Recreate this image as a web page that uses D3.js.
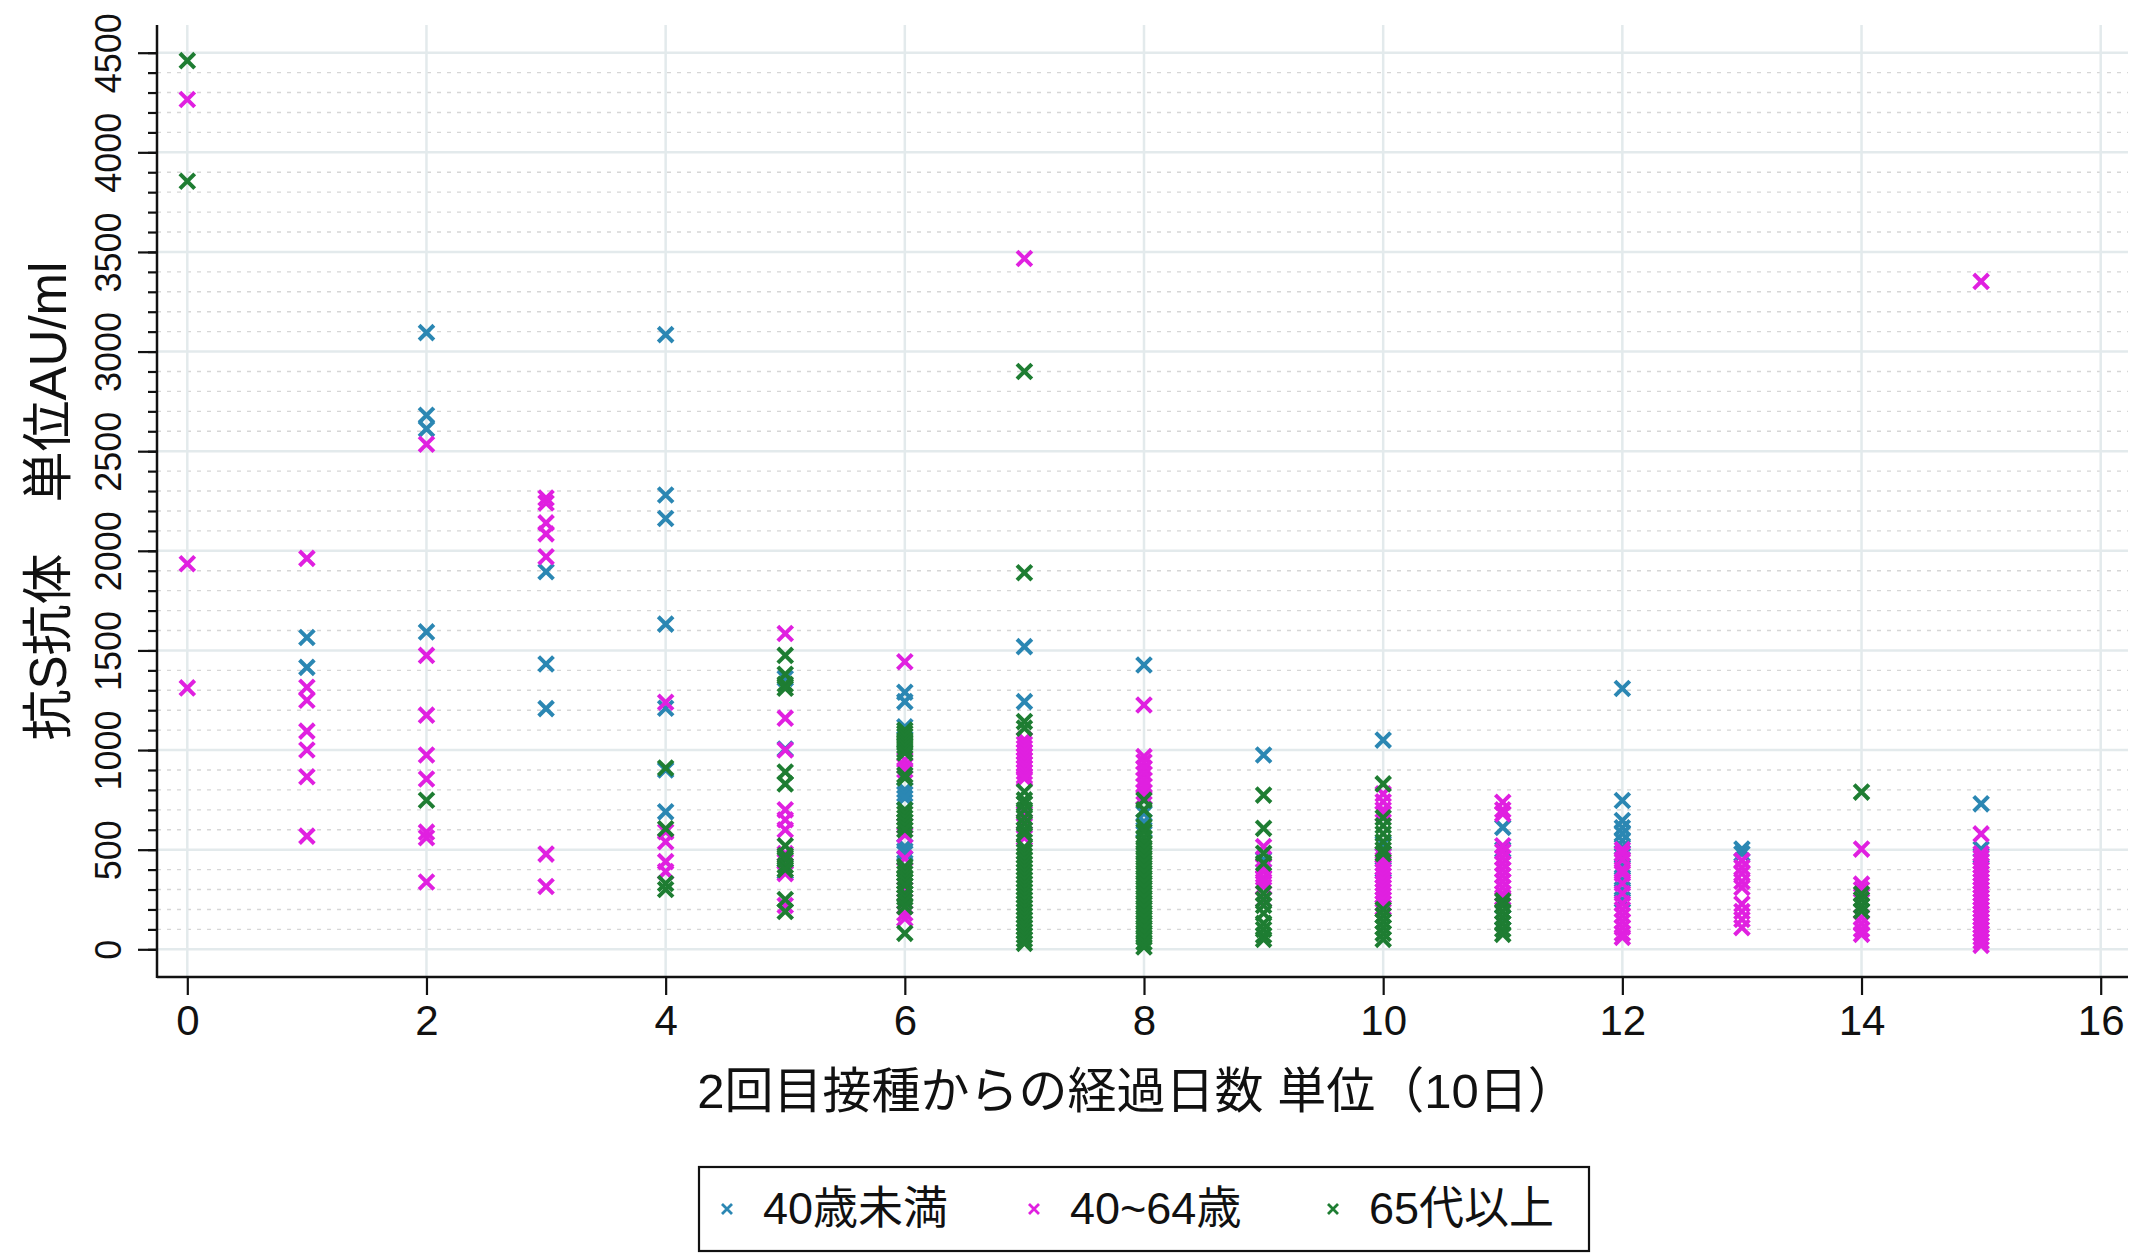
<!DOCTYPE html>
<html>
<head>
<meta charset="utf-8">
<script src="https://cdn.jsdelivr.net/npm/d3@7"></script>
<style>
  body { margin: 0; background: #fff; }
  text { font-family: "Liberation Sans", "Noto Sans CJK JP", sans-serif; fill: #111; }
</style>
</head>
<body>
<div id="chart"></div>
<script>
const width = 2132;
const height = 1254;

// series labels / colours
const groupNames = ["40歳未満", "40~64歳", "65代以上"];
const groupColors = ["#2b87b3", "#e020e0", "#1e7d32"];

const xTicks = [0, 2, 4, 6, 8, 10, 12, 14, 16];
const yTicks = [0, 500, 1000, 1500, 2000, 2500, 3000, 3500, 4000, 4500];

const xTitle = "2回目接種からの経過日数 単位（10日）";
const yTitle = "抗S抗体　単位AU/ml";

// [経過 (10日), 抗体 AU/ml]
const under40 = [
  [1,1565],[1,1415],
  [2,3095],[2,2680],[2,2612],[2,1593],
  [3,1895],[3,1432],[3,1208],
  [4,3085],[4,2280],[4,2162],[4,1632],[4,1210],[4,900],[4,690],
  [5,1360],[5,1005],[5,390],
  [6,1290],[6,1243],[6,1117],[6,800],[6,780],[6,760],[6,515],[6,495],[6,482],
  [7,1519],[7,1243],
  [8,1427],[8,682],[8,640],[8,600],
  [9,975],[9,450],
  [10,1050],[10,530],[10,400],
  [11,612],[11,500],[11,159],
  [12,1309],[12,747],[12,646],[12,610],[12,580],[12,545],[12,512],[12,470],[12,420],[12,350],[12,300],[12,250],
  [13,503],[13,480],
  [15,730],[15,503],[15,470]
];

const age40to64 = [
  [0,4265],[0,1935],[0,1312],
  [1,1962],[1,1315],[1,1250],[1,1095],[1,1000],[1,866],[1,568],
  [2,2535],[2,1475],[2,1175],[2,975],[2,855],[2,588],[2,560],[2,338],
  [3,2265],[3,2240],[3,2140],[3,2085],[3,1970],[3,478],[3,315],
  [4,1240],[4,590],[4,540],[4,440],[4,390],
  [5,1585],[5,1160],[5,1000],[5,700],[5,650],[5,600],[5,480],[5,440],[5,380],[5,220],
  [6,1443],[6,950],[6,920],[6,900],[6,620],[6,574],[6,457],[6,300],[6,181],[6,155],
  [7,3467],[7,1051],[7,1030],[7,1010],[7,990],[7,970],[7,950],[7,930],[7,910],[7,890],[7,870],[7,858],[7,680],[7,640],[7,560],
  [8,1226],[8,967],[8,940],[8,910],[8,880],[8,850],[8,820],[8,790],[8,766],
  [9,515],[9,415],[9,390],[9,360],[9,340],[9,314],[9,250],
  [10,780],[10,740],[10,700],[10,680],[10,470],[10,450],[10,430],[10,410],[10,390],[10,370],[10,350],[10,330],[10,310],[10,290],[10,270],[10,250],[10,230],[10,210],
  [11,738],[11,700],[11,680],[11,520],[11,490],[11,460],[11,430],[11,400],[11,370],[11,340],[11,310],[11,280],[11,260],
  [12,500],[12,480],[12,450],[12,400],[12,380],[12,330],[12,280],[12,230],[12,200],[12,170],[12,140],[12,110],[12,80],[12,60],
  [13,445],[13,410],[13,380],[13,340],[13,310],[13,227],[13,190],[13,150],[13,109],
  [14,503],[14,327],[14,300],[14,160],[14,130],[14,100],[14,75],
  [15,3352],[15,579],[15,480],[15,460],[15,440],[15,420],[15,400],[15,380],[15,360],[15,340],[15,320],[15,300],[15,280],[15,260],[15,240],[15,220],[15,200],[15,180],[15,160],[15,140],[15,120],[15,100],[15,80],[15,60],[15,40],[15,20]
];

const over65 = [
  [0,4460],[0,3855],
  [2,748],
  [4,910],[4,605],[4,330],[4,300],
  [5,1475],[5,1380],[5,1330],[5,1310],[5,890],[5,830],[5,520],[5,470],[5,450],[5,420],[5,400],[5,250],[5,190],
  [6,1100],[6,1085],[6,1070],[6,1050],[6,1035],[6,1020],[6,1000],[6,985],[6,875],[6,860],[6,700],[6,680],[6,660],[6,640],[6,620],[6,600],
  [6,415],[6,400],[6,380],[6,360],[6,340],[6,320],[6,280],[6,260],[6,240],[6,214],[6,80],
  [7,2900],[7,1890],[7,1143],[7,1110],[7,791],[7,750],[7,730],[7,700],[7,660],[7,630],[7,600],[7,580],
  [7,512],[7,490],[7,470],[7,450],[7,430],[7,410],[7,390],[7,370],[7,350],[7,330],[7,310],[7,290],[7,270],[7,250],
  [7,230],[7,210],[7,190],[7,170],[7,150],[7,130],[7,110],[7,90],[7,70],[7,50],[7,30],
  [8,749],[8,700],[8,615],[8,590],[8,560],[8,535],[8,510],[8,485],[8,460],[8,435],[8,410],[8,385],[8,360],[8,335],
  [8,310],[8,285],[8,260],[8,235],[8,210],[8,185],[8,160],[8,135],[8,110],[8,85],[8,60],[8,35],[8,12],
  [9,774],[9,607],[9,482],[9,432],[9,281],[9,250],[9,220],[9,181],[9,130],[9,100],[9,70],[9,50],
  [10,830],[10,660],[10,620],[10,580],[10,540],[10,500],[10,480],[10,200],[10,170],[10,140],[10,110],[10,80],[10,50],
  [11,243],[11,220],[11,190],[11,160],[11,130],[11,100],[11,75],
  [14,789],[14,277],[14,250],[14,220],[14,193]
];

const series = [under40, age40to64, over65];

const frame = { left: 157, right: 2128, top: 25, bottom: 977 };

const svg = d3.select("#chart")
    .append("svg")
    .attr("width", width)
    .attr("height", height)
    .style("background", "#fff");

const x = d3.scaleLinear().domain([0, 16]).range([187.3, 2100.7]);
const y = d3.scaleLinear().domain([0, 4500]).range([949.3, 52.7]);

// minor dotted grid every 100
const minorVals = d3.range(100, 4500, 100).filter(v => v % 500 !== 0);
svg.append("g")
    .selectAll("line")
    .data(minorVals)
    .enter()
    .append("line")
    .attr("x1", frame.left).attr("x2", frame.right)
    .attr("y1", d => y(d)).attr("y2", d => y(d))
    .attr("stroke", "#d6d6d6")
    .attr("stroke-width", 1.4)
    .attr("stroke-dasharray", "4,6");

// major grid
svg.append("g")
    .selectAll("line")
    .data(yTicks)
    .enter()
    .append("line")
    .attr("x1", frame.left).attr("x2", frame.right)
    .attr("y1", d => y(d)).attr("y2", d => y(d))
    .attr("stroke", "#e3eaec")
    .attr("stroke-width", 2.5);

svg.append("g")
    .selectAll("line")
    .data(xTicks)
    .enter()
    .append("line")
    .attr("x1", d => x(d)).attr("x2", d => x(d))
    .attr("y1", frame.top).attr("y2", frame.bottom)
    .attr("stroke", "#e3eaec")
    .attr("stroke-width", 2.5);

// markers: blue, magenta, then green on top
const cross = s => `M${-s},${-s}L${s},${s}M${-s},${s}L${s},${-s}`;

series.forEach((pts, i) => {
    svg.append("g")
        .selectAll("path")
        .data(pts)
        .enter()
        .append("path")
        .attr("transform", d => `translate(${x(d[0])},${y(d[1])})`)
        .attr("d", cross(7.4))
        .attr("stroke", groupColors[i])
        .attr("stroke-width", 4)
        .attr("fill", "none");
});

// axes
const yAxisMinor = d3.axisLeft(y)
    .tickValues(d3.range(0, 4600, 100))
    .tickSize(9)
    .tickFormat("");
const yAxis = d3.axisLeft(y)
    .tickValues(yTicks)
    .tickSize(19)
    .tickFormat(d3.format("d"));
const xAxis = d3.axisBottom(x)
    .tickValues(xTicks)
    .tickSize(18)
    .tickPadding(10);

const gy = svg.append("g").attr("transform", `translate(${frame.left},0)`);
gy.call(yAxisMinor);
gy.append("g").call(yAxis);
gy.selectAll(".domain").remove();
gy.selectAll("line").attr("stroke", "#111").attr("stroke-width", 2.2);
gy.selectAll("text")
    .attr("font-size", 36)
    .attr("x", 0).attr("dy", 0)
    .attr("text-anchor", "middle")
    .attr("transform", "translate(-36,0) rotate(-90)");

const gx = svg.append("g").attr("transform", `translate(0,${frame.bottom})`);
gx.call(xAxis);
gx.select(".domain").remove();
gx.selectAll("line").attr("stroke", "#111").attr("stroke-width", 2.2);
gx.selectAll("text").attr("font-size", 42).attr("fill", "#111");

// frame lines (left + bottom)
svg.append("line")
    .attr("x1", frame.left).attr("x2", frame.left)
    .attr("y1", frame.top).attr("y2", frame.bottom + 1)
    .attr("stroke", "#111").attr("stroke-width", 2.5);
svg.append("line")
    .attr("x1", frame.left).attr("x2", frame.right)
    .attr("y1", frame.bottom).attr("y2", frame.bottom)
    .attr("stroke", "#111").attr("stroke-width", 2.5);

// titles
svg.append("text")
    .attr("x", 1137)
    .attr("y", 1108)
    .attr("text-anchor", "middle")
    .attr("font-size", 49)
    .text(xTitle);

svg.append("text")
    .attr("transform", `translate(66,${(frame.top + frame.bottom) / 2}) rotate(-90)`)
    .attr("text-anchor", "middle")
    .attr("font-size", 51)
    .text(yTitle);

// legend
const legend = svg.append("g");
legend.append("rect")
    .attr("x", 699).attr("y", 1167)
    .attr("width", 890).attr("height", 84)
    .attr("fill", "#fff")
    .attr("stroke", "#111")
    .attr("stroke-width", 2.2);

const legendMarkX = [727, 1034, 1333];
groupNames.forEach((name, i) => {
    legend.append("path")
        .attr("transform", `translate(${legendMarkX[i]},1209)`)
        .attr("d", cross(5))
        .attr("stroke", groupColors[i])
        .attr("stroke-width", 2.8)
        .attr("fill", "none");
    legend.append("text")
        .attr("x", legendMarkX[i] + 36)
        .attr("y", 1224)
        .attr("font-size", 45)
        .text(name);
});
</script>
</body>
</html>
